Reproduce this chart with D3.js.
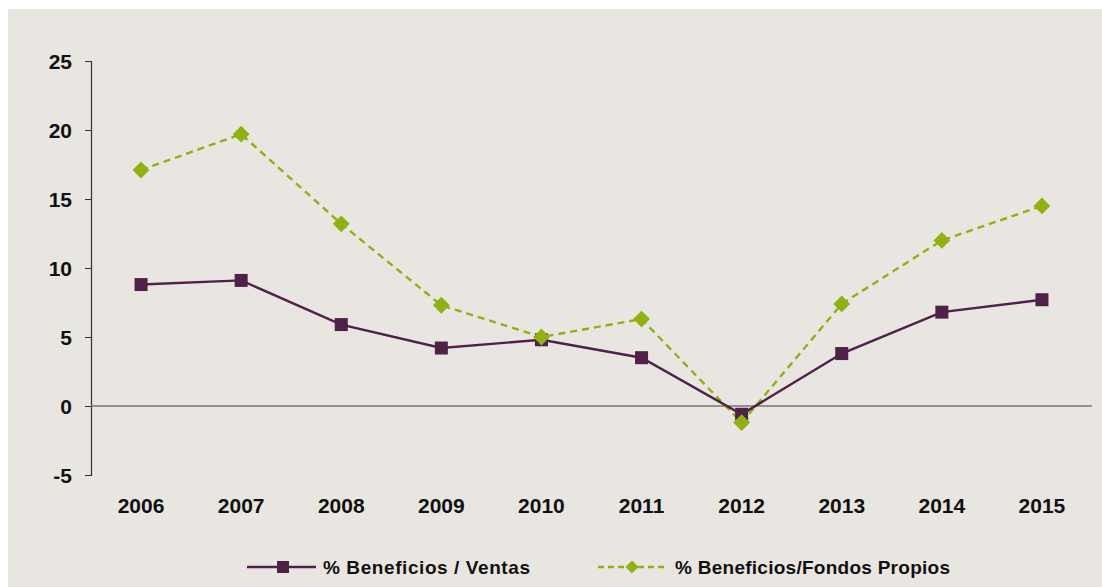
<!DOCTYPE html>
<meta charset="utf-8">
<head>
  <title>Beneficios</title>
</head>
<style>
body { margin: 0; background: #fff; }
svg text { font-family: "Liberation Sans", Arial, sans-serif; font-weight: bold; fill: #111; }
</style>
<body>
<div id="content"></div>
<script src="https://cdnjs.cloudflare.com/ajax/libs/d3/7.8.5/d3.min.js"></script>
<script>
var years = ['2006', '2007', '2008', '2009', '2010', '2011', '2012', '2013', '2014', '2015'];
var ventas = [8.8, 9.1, 5.9, 4.2, 4.8, 3.5, -0.6, 3.8, 6.8, 7.7];
var fondos = [17.1, 19.7, 13.2, 7.3, 5.0, 6.3, -1.2, 7.4, 12.0, 14.5];
var yTicks = [-5, 0, 5, 10, 15, 20, 25];
var seriesNames = ['% Beneficios / Ventas', '% Beneficios/Fondos Propios'];

var W = 1102, H = 587;
var purple = '#4f2149', green = '#8fb112';

var svg = d3.select('#content').append('svg')
  .attr('width', W).attr('height', H);

svg.append('rect')
  .attr('x', 8).attr('y', 9)
  .attr('width', W - 8).attr('height', H - 9)
  .attr('fill', '#e9e6e1');

var x = d3.scaleBand().domain(years).range([91, 1092]);
var y = d3.scaleLinear().domain([-5, 25]).range([475, 61]);

// y axis
var yAxis = svg.append('g')
  .attr('transform', 'translate(91,0)')
  .call(d3.axisLeft(y).tickValues(yTicks).tickSize(6).tickPadding(13)
    .tickFormat(function(d) { return String(d); }));
yAxis.select('.domain').attr('stroke', '#333').attr('stroke-width', 1.2);
yAxis.selectAll('.tick line').attr('stroke', '#333');
yAxis.selectAll('.tick text')
  .style('font-size', '21px')
  .attr('dy', '0.35em');

// zero line
svg.append('line')
  .attr('x1', 91).attr('x2', 1092)
  .attr('y1', y(0)).attr('y2', y(0))
  .attr('stroke', '#767370').attr('stroke-width', 1.5);

// x labels
svg.selectAll('.xlab').data(years).enter().append('text')
  .attr('class', 'xlab')
  .attr('x', function(d) { return x(d) + x.bandwidth() / 2; })
  .attr('y', 513)
  .attr('text-anchor', 'middle')
  .style('font-size', '21px')
  .text(function(d) { return d; });

var cx = function(d, i) { return x(years[i]) + x.bandwidth() / 2; };
var line = d3.line().x(cx).y(function(d) { return y(d); });

svg.append('path').datum(fondos)
  .attr('d', line).attr('fill', 'none')
  .attr('stroke', green).attr('stroke-width', 2.4)
  .attr('stroke-dasharray', '7,5');

svg.append('path').datum(ventas)
  .attr('d', line).attr('fill', 'none')
  .attr('stroke', purple).attr('stroke-width', 2.4);

svg.selectAll('.sq').data(ventas).enter().append('rect')
  .attr('class', 'sq')
  .attr('x', function(d, i) { return cx(d, i) - 6.5; })
  .attr('y', function(d) { return y(d) - 6.5; })
  .attr('width', 13).attr('height', 13)
  .attr('fill', purple);

var diamond = d3.symbol().type(d3.symbolDiamond2).size(180);
svg.selectAll('.dm').data(fondos).enter().append('path')
  .attr('class', 'dm')
  .attr('transform', function(d, i) { return 'translate(' + cx(d, i) + ',' + y(d) + ')'; })
  .attr('d', diamond)
  .attr('fill', green);

// legend
var ly = 567;
svg.append('line').attr('x1', 247).attr('x2', 316).attr('y1', ly).attr('y2', ly)
  .attr('stroke', purple).attr('stroke-width', 2.4);
svg.append('rect').attr('x', 277).attr('y', ly - 6).attr('width', 12).attr('height', 12)
  .attr('fill', purple);
svg.append('text').attr('x', 323).attr('y', ly + 7)
  .style('font-size', '19px').attr('textLength', 207).text(seriesNames[0]);

svg.append('line').attr('x1', 598).attr('x2', 666).attr('y1', ly).attr('y2', ly)
  .attr('stroke', green).attr('stroke-width', 2.4).attr('stroke-dasharray', '6,4');
svg.append('path').attr('transform', 'translate(632,' + ly + ')')
  .attr('d', d3.symbol().type(d3.symbolDiamond2).size(110)).attr('fill', green);
svg.append('text').attr('x', 675).attr('y', ly + 7)
  .style('font-size', '19px').attr('textLength', 275).text(seriesNames[1]);
</script>
</body>
</html>
